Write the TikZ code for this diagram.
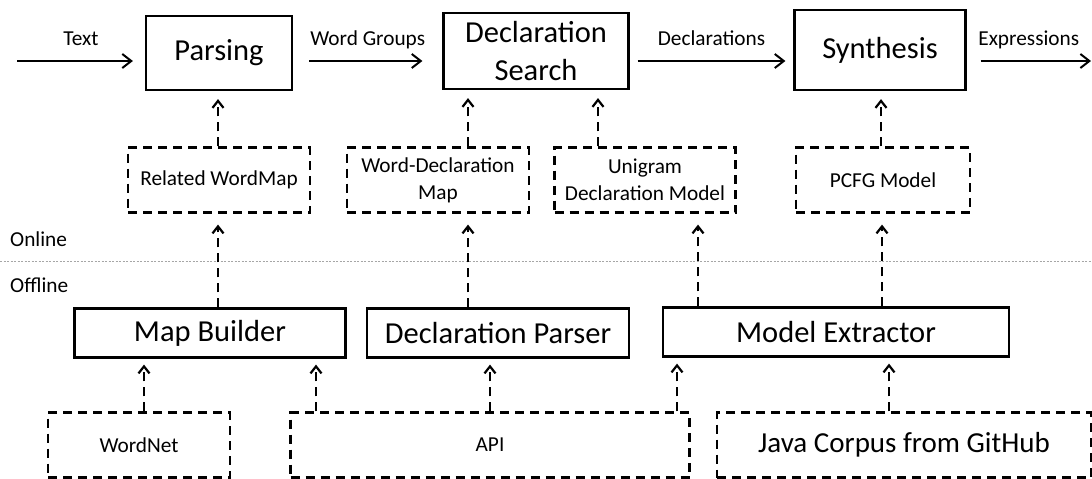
\documentclass[tikz,border=0pt]{standalone}
\usepackage{fontspec}
\setmainfont{Carlito}
\usetikzlibrary{arrows.meta}

\newcommand{\stagefont}{\fontsize{30.5}{38}\selectfont}
\newcommand{\notefont}{\fontsize{21.3}{27}\selectfont}

\begin{document}
\begin{tikzpicture} [
            x=1pt, y=-1pt,
            stage/.style = {draw, line width=2.2pt, inner sep=0pt, align=center, font=\stagefont},
            resource/.style = {draw, line width=2.2pt, dash pattern=on 9pt off 6pt, inner sep=0pt, align=center, font=\notefont},
            flow/.style = {draw, line width=2pt, -{Straight Barb[length=9pt,width=14pt]}},
            feed/.style = {draw, line width=2.2pt, dash pattern=on 9pt off 6pt, -{Straight Barb[length=7pt,width=11pt]}},
            flowtext/.style = {midway, anchor=base, yshift=16pt, font=\notefont},
            divider/.style = {draw, line width=0.8pt, gray!70, dash pattern=on 2pt off 1.5pt}
        ]
        \useasboundingbox (0,0) rectangle (1092,479);
        % First we draw the stages
        \foreach \pos/\name/\w/\h/\txt in {
                {(219,53)/parse/146/74/Parsing},
                {(536,51)/dsearch/185/76/{Declaration\\Search}},
                {(880,50)/synth/171/80/Synthesis},
                {(210,333)/mbuild/271/49/Map Builder},
                {(498,333)/dparse/262/49/Declaration Parser},
                {(836,332)/mextract/346/49/Model Extractor}}
            \node[stage, minimum width=\w, minimum height=\h] (\name) at \pos {\txt};
        % then the data they use
        \foreach \pos/\name/\w/\txt in {
                {(219,180)/relmap/182/Related WordMap},
                {(438,180)/wdmap/182/{Word-Declaration\\Map}},
                {(645,180)/unimodel/181/{Unigram\\Declaration Model}},
                {(883,180)/pcfg/174/PCFG Model},
                {(139,445)/wordnet/182/WordNet},
                {(490,445)/api/399/API},
                {(904,445)/corpus/374/{\fontsize{29}{36}\selectfont Java Corpus from GitHub}}}
            \node[resource, minimum width=\w, minimum height=65] (\name) at \pos {\txt};
        % online / offline split
        \coordinate (splitl) at (0,261);
        \coordinate (splitr) at (1092,261);
        \path[divider] (splitl) -- (splitr);
        \node[anchor=base west, font=\notefont, inner sep=0pt] (online) at (10,246) {Online};
        \node[anchor=base west, font=\notefont, inner sep=0pt] (offline) at (10,292) {Offline};
        % main flow
        \coordinate (textin) at (17,61);
        \coordinate (exprout) at (1091,61);
        \path[flow, shorten >=12pt] (textin) -- node[flowtext] {Text} (textin -| parse.west);
        \path[flow, shorten <=16pt, shorten >=20pt] (parse.east |- textin) -- node[flowtext] {Word Groups} (dsearch.west |- textin);
        \path[flow, shorten <=8pt, shorten >=8pt] (dsearch.east |- textin) -- node[flowtext] {Declarations} (synth.west |- textin);
        \path[flow, shorten <=14pt] (synth.east |- textin) -- node[flowtext] {Expressions} (exprout);
        % dashed feeds
        \foreach \src/\dst/\x in {relmap/parse/218, wdmap/dsearch/468, unimodel/dsearch/598, pcfg/synth/881}
            \path[feed, shorten >=8pt] (\x,0 |- \src.north) -- (\x,0 |- \dst.south);
        \foreach \src/\dst/\x in {mbuild/relmap/218, dparse/wdmap/468, mextract/unimodel/698, mextract/pcfg/882}
            \path[feed, shorten >=11pt] (\x,0 |- \src.north) -- (\x,0 |- \dst.south);
        \foreach \src/\dst/\x in {wordnet/mbuild/144, api/mbuild/316, api/dparse/490, api/mextract/677, corpus/mextract/889}
            \path[feed, shorten >=6pt] (\x,0 |- \src.north) -- (\x,0 |- \dst.south);
    \end{tikzpicture}
\end{document}
